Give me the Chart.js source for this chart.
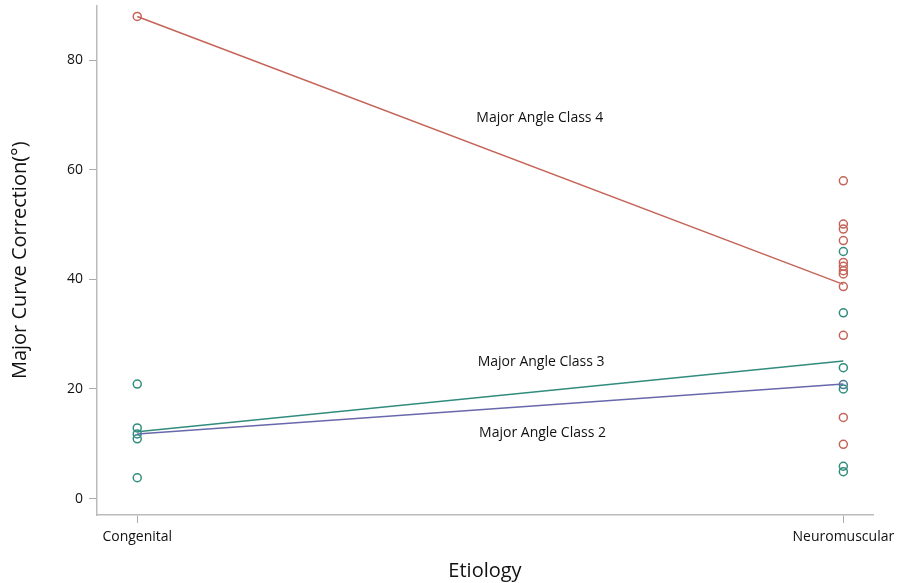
<!DOCTYPE html>
<html>
<head>
<meta charset="utf-8">
<script src="https://cdn.jsdelivr.net/npm/chart.js@4.4.1/dist/chart.umd.min.js"></script>
<style>
  html, body { margin: 0; padding: 0; background: #fff; }
  #wrap { width: 900px; height: 583px; }
</style>
</head>
<body>
<div id="wrap"><canvas id="chart"></canvas></div>
<script>
// categories on the x axis (0 = Congenital, 1 = Neuromuscular)
var categories = ['Congenital', 'Neuromuscular'];
var yTicks = [0, 20, 40, 60, 80];

// observed points
var class4Congenital = [88];
var class4Neuro = [58, 50.1, 49.2, 47.1, 43.1, 42.4, 41.6, 41.0, 38.7, 29.8, 14.8, 9.9];
var class3Congenital = [20.9, 12.9, 11.8, 10.9, 3.8];
var class3Neuro = [45.1, 33.9, 23.9, 20.0, 5.9, 4.9];
var class2Neuro = [20.8];

// fitted means (line ends)
var class4Line = [88, 39.1];
var class3Line = [12.2, 25.1];
var class2Line = [11.8, 20.9];

var red = 'rgb(196,100,88)';
var teal = 'rgb(48,140,124)';
var blue = 'rgb(104,104,172)';

function pts(xv, arr) {
  return arr.map(function (v) { return { x: xv, y: v }; });
}
function linePts(arr) {
  return arr.map(function (v, i) { return { x: i, y: v }; });
}
function scatterSet(data, color) {
  return {
    type: 'scatter', data: data, showLine: false,
    pointRadius: 4, pointBorderWidth: 1.5, pointBorderColor: color,
    pointBackgroundColor: 'rgba(0,0,0,0)', borderColor: color
  };
}
function lineSet(data, color) {
  return {
    type: 'line', data: data, borderColor: color, borderWidth: 1.5,
    pointRadius: 0, fill: false
  };
}

// text labels next to the fitted lines, anchored in data units
var lineLabels = [
  { text: 'Major Angle Class 4', x: 0.57, y: 69.4 },
  { text: 'Major Angle Class 3', x: 0.572, y: 24.9 },
  { text: 'Major Angle Class 2', x: 0.574, y: 12.0 }
];

var labelPlugin = {
  id: 'lineLabels',
  afterDatasetsDraw: function (chart) {
    var ctx = chart.ctx, xs = chart.scales.x, ys = chart.scales.y;
    ctx.save();
    ctx.font = '14px "Open Sans", sans-serif';
    ctx.fillStyle = '#111';
    ctx.textAlign = 'center';
    ctx.textBaseline = 'middle';
    lineLabels.forEach(function (l) {
      ctx.fillText(l.text, xs.getPixelForValue(l.x), ys.getPixelForValue(l.y));
    });
    ctx.restore();
  }
};

new Chart(document.getElementById('chart'), {
  data: {
    datasets: [
      lineSet(linePts(class4Line), red),
      lineSet(linePts(class3Line), teal),
      lineSet(linePts(class2Line), blue),
      scatterSet(pts(0, class4Congenital), red),
      scatterSet(pts(1, class4Neuro), red),
      scatterSet(pts(0, class3Congenital), teal),
      scatterSet(pts(1, class3Neuro), teal),
      scatterSet(pts(1, class2Neuro), 'rgb(70,120,150)')
    ]
  },
  plugins: [labelPlugin],
  options: {
    responsive: true,
    maintainAspectRatio: false,
    animation: false,
    layout: { padding: { top: 5, right: 27, left: 0, bottom: 0 } },
    plugins: { legend: { display: false }, tooltip: { enabled: false } },
    scales: {
      x: {
        type: 'linear', min: -0.057, max: 1.042,
        afterBuildTicks: function (s) { s.ticks = [{ value: 0 }, { value: 1 }]; },
        afterFit: function (s) { s.height = 68; s.paddingLeft = 0; s.paddingRight = 0; },
        ticks: {
          color: '#111', font: { size: 14, family: '"Open Sans", sans-serif' },
          padding: 6,
          callback: function (v) { return categories[v]; }
        },
        grid: { drawOnChartArea: false, tickLength: 8, color: '#aaa' },
        border: { color: '#bbb', width: 1.5 },
        title: {
          display: true, text: 'Etiology', color: '#111',
          font: { size: 20, family: '"Open Sans", sans-serif' }, padding: { top: 4, bottom: 0 }
        }
      },
      y: {
        min: -3, max: 90,
        afterBuildTicks: function (s) { s.ticks = yTicks.map(function (v) { return { value: v }; }); },
        afterFit: function (s) { s.width = 97; s.paddingTop = 0; s.paddingBottom = 0; },
        ticks: {
          color: '#111', font: { size: 14, family: '"Open Sans", sans-serif' }, padding: 6
        },
        grid: { drawOnChartArea: false, tickLength: 8, color: '#aaa' },
        border: { color: '#bbb', width: 1.5 },
        title: {
          display: true, text: 'Major Curve Correction(°)', color: '#111',
          font: { size: 20, family: '"Open Sans", sans-serif' }, padding: { top: 8, bottom: 4 }
        }
      }
    }
  }
});
</script>
</body>
</html>
